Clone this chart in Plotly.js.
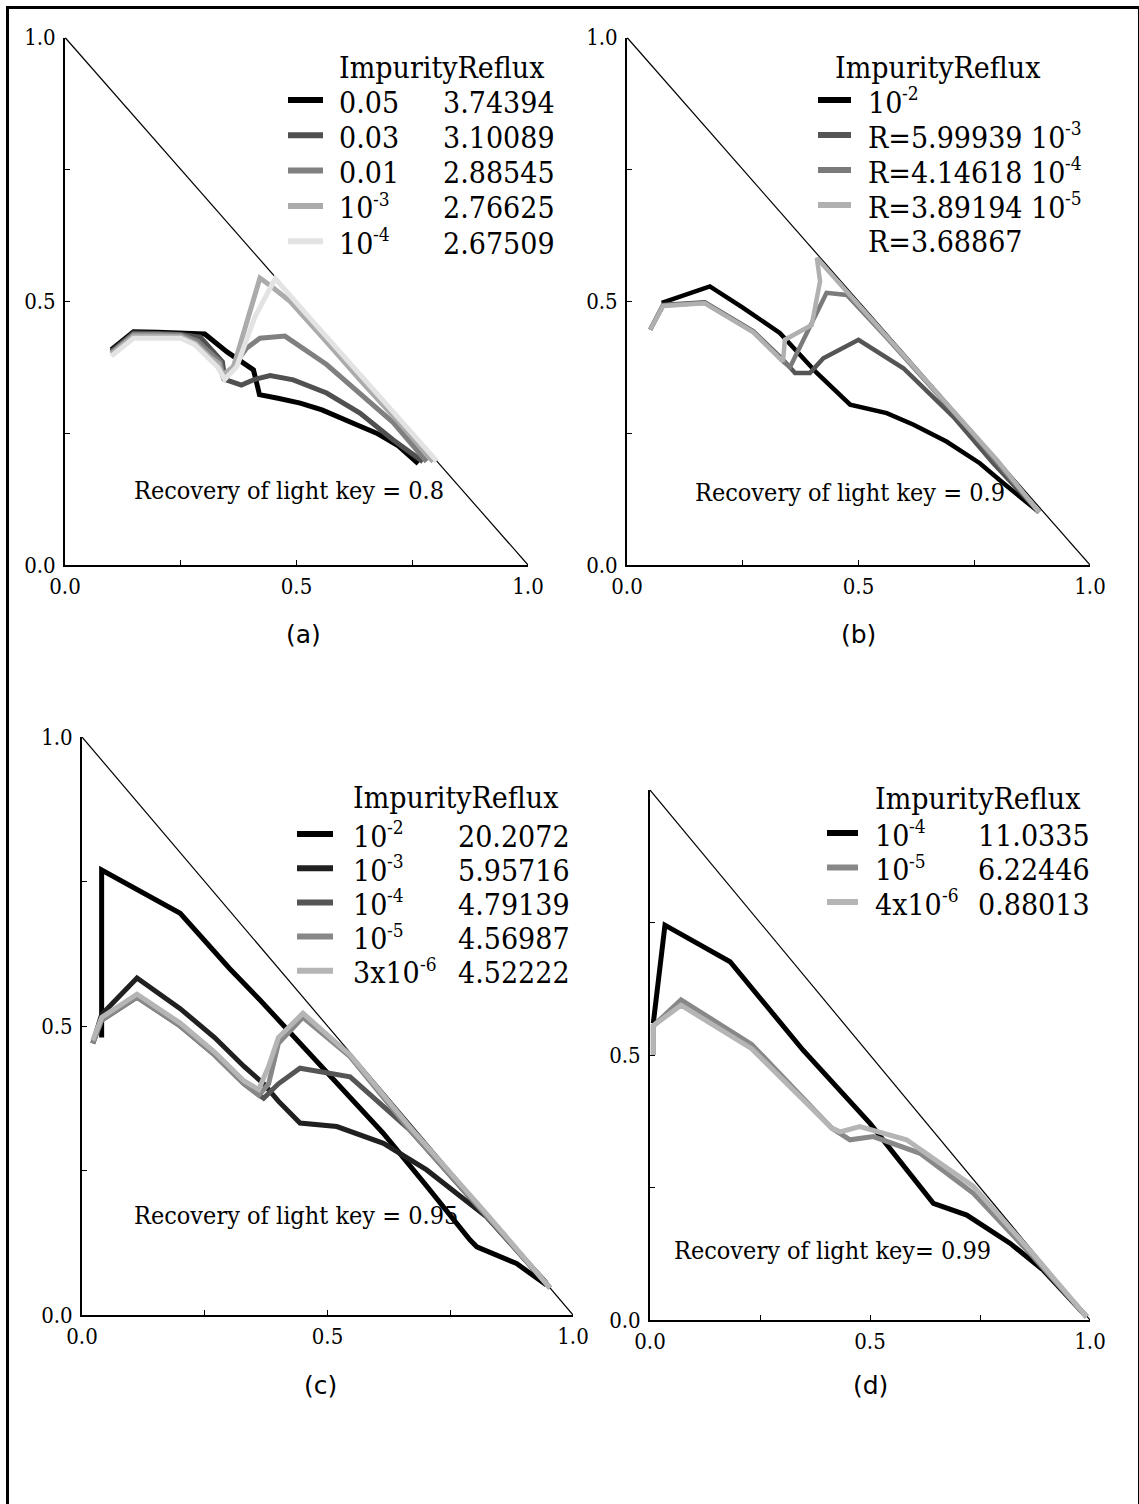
<!DOCTYPE html>
<html>
<head>
<meta charset="utf-8">
<script src="https://cdn.plot.ly/plotly-3.0.1.min.js"></script>
<style>
  html, body { margin: 0; padding: 0; background: #ffffff; }
  #chart { width: 1139px; height: 1504px; }
</style>
</head>
<body>
<div id="chart"></div>
<script>
// ---------- Panel (a): recovery of light key = 0.8 ----------
const aImpurity = ['0.05', '0.03', '0.01', '10^-3', '10^-4'];
const aReflux = ['3.74394', '3.10089', '2.88545', '2.76625', '2.67509'];
const aColors = ['#000000', '#505050', '#808080', '#ababab', '#e3e3e3'];
const aX1 = [0.100, 0.148, 0.200, 0.250, 0.302, 0.350, 0.407, 0.414, 0.420, 0.460, 0.508, 0.555, 0.601, 0.640, 0.673, 0.720, 0.763];
const aY1 = [0.408, 0.442, 0.441, 0.440, 0.438, 0.404, 0.370, 0.345, 0.323, 0.316, 0.307, 0.294, 0.278, 0.262, 0.250, 0.226, 0.192];
const aX2 = [0.100, 0.148, 0.200, 0.250, 0.292, 0.318, 0.340, 0.345, 0.367, 0.381, 0.410, 0.443, 0.493, 0.565, 0.637, 0.709, 0.773];
const aY2 = [0.405, 0.440, 0.439, 0.437, 0.432, 0.405, 0.385, 0.352, 0.345, 0.341, 0.352, 0.359, 0.351, 0.326, 0.288, 0.237, 0.196];
const aX3 = [0.100, 0.148, 0.200, 0.250, 0.285, 0.315, 0.335, 0.342, 0.352, 0.370, 0.392, 0.421, 0.475, 0.565, 0.637, 0.709, 0.781];
const aY3 = [0.402, 0.437, 0.437, 0.436, 0.425, 0.400, 0.385, 0.356, 0.360, 0.385, 0.411, 0.430, 0.434, 0.380, 0.326, 0.270, 0.196];
const aX4 = [0.100, 0.148, 0.200, 0.250, 0.282, 0.312, 0.332, 0.340, 0.364, 0.392, 0.421, 0.446, 0.486, 0.560, 0.640, 0.720, 0.795];
const aY4 = [0.400, 0.434, 0.434, 0.433, 0.420, 0.395, 0.382, 0.360, 0.376, 0.460, 0.544, 0.528, 0.500, 0.428, 0.348, 0.272, 0.196];
const aX5 = [0.100, 0.148, 0.200, 0.250, 0.280, 0.310, 0.330, 0.345, 0.371, 0.410, 0.454, 0.520, 0.600, 0.680, 0.750, 0.803];
const aY5 = [0.396, 0.430, 0.430, 0.430, 0.418, 0.392, 0.375, 0.352, 0.376, 0.470, 0.543, 0.477, 0.398, 0.318, 0.248, 0.197];

// ---------- Panel (b): recovery of light key = 0.9 ----------
const bLabels = ['10^-2', 'R=5.99939 10^-3', 'R=4.14618 10^-4', 'R=3.89194 10^-5', 'R=3.68867'];
const bColors = ['#000000', '#555555', '#7a7a7a', '#b0b0b0'];
const bX1 = [0.075, 0.179, 0.250, 0.330, 0.410, 0.482, 0.561, 0.619, 0.690, 0.762, 0.813, 0.890];
const bY1 = [0.497, 0.528, 0.488, 0.440, 0.364, 0.304, 0.288, 0.266, 0.234, 0.193, 0.155, 0.100];
const bX2 = [0.050, 0.078, 0.168, 0.273, 0.337, 0.363, 0.395, 0.424, 0.500, 0.597, 0.705, 0.791, 0.890];
const bY2 = [0.446, 0.493, 0.498, 0.443, 0.389, 0.364, 0.364, 0.392, 0.427, 0.373, 0.281, 0.193, 0.100];
const bX3 = [0.050, 0.078, 0.168, 0.273, 0.337, 0.352, 0.431, 0.475, 0.560, 0.650, 0.740, 0.890];
const bY3 = [0.446, 0.492, 0.497, 0.442, 0.386, 0.375, 0.516, 0.512, 0.432, 0.345, 0.256, 0.100];
const bX4 = [0.050, 0.078, 0.168, 0.273, 0.337, 0.341, 0.399, 0.417, 0.410, 0.500, 0.600, 0.700, 0.800, 0.890];
const bY4 = [0.446, 0.491, 0.496, 0.441, 0.386, 0.427, 0.455, 0.538, 0.582, 0.493, 0.396, 0.298, 0.198, 0.100];

// ---------- Panel (c): recovery of light key = 0.95 ----------
const cImpurity = ['10^-2', '10^-3', '10^-4', '10^-5', '3x10^-6'];
const cReflux = ['20.2072', '5.95716', '4.79139', '4.56987', '4.52222'];
const cColors = ['#000000', '#202020', '#555555', '#888888', '#b5b5b5'];
const cX1 = [0.040, 0.040, 0.200, 0.300, 0.3625, 0.444, 0.530, 0.613, 0.700, 0.783, 0.790, 0.804, 0.885, 0.946];
const cY1 = [0.480, 0.770, 0.695, 0.600, 0.545, 0.470, 0.390, 0.315, 0.225, 0.135, 0.130, 0.118, 0.089, 0.052];
const cX2 = [0.022, 0.040, 0.112, 0.200, 0.270, 0.330, 0.370, 0.400, 0.444, 0.519, 0.614, 0.702, 0.824, 0.946];
const cY2 = [0.470, 0.520, 0.583, 0.530, 0.480, 0.430, 0.400, 0.370, 0.332, 0.326, 0.297, 0.251, 0.170, 0.055];
const cX3 = [0.022, 0.040, 0.112, 0.200, 0.270, 0.330, 0.370, 0.400, 0.444, 0.546, 0.668, 0.824, 0.953];
const cY3 = [0.470, 0.510, 0.550, 0.500, 0.450, 0.400, 0.375, 0.400, 0.427, 0.412, 0.320, 0.172, 0.047];
const cX4 = [0.022, 0.040, 0.112, 0.200, 0.270, 0.330, 0.360, 0.380, 0.400, 0.450, 0.546, 0.668, 0.824, 0.953];
const cY4 = [0.470, 0.510, 0.550, 0.500, 0.450, 0.400, 0.380, 0.400, 0.470, 0.515, 0.447, 0.320, 0.172, 0.047];
const cX5 = [0.022, 0.040, 0.112, 0.200, 0.270, 0.330, 0.360, 0.380, 0.400, 0.450, 0.546, 0.668, 0.824, 0.953];
const cY5 = [0.475, 0.515, 0.555, 0.505, 0.455, 0.405, 0.390, 0.430, 0.480, 0.522, 0.450, 0.325, 0.175, 0.047];

// ---------- Panel (d): recovery of light key = 0.99 ----------
const dImpurity = ['10^-4', '10^-5', '4x10^-6'];
const dReflux = ['11.0335', '6.22446', '0.88013'];
const dColors = ['#000000', '#888888', '#b5b5b5'];
const dX1 = [0.0075, 0.034, 0.182, 0.348, 0.500, 0.636, 0.644, 0.720, 0.818, 0.894, 0.9925];
const dY1 = [0.560, 0.745, 0.676, 0.509, 0.371, 0.230, 0.220, 0.198, 0.145, 0.094, 0.006];
const dX2 = [0.0075, 0.0075, 0.0705, 0.231, 0.413, 0.4545, 0.5076, 0.614, 0.735, 0.870, 0.9925];
const dY2 = [0.500, 0.555, 0.604, 0.520, 0.362, 0.340, 0.346, 0.3145, 0.239, 0.120, 0.006];
const dX3 = [0.0075, 0.0075, 0.0705, 0.231, 0.413, 0.432, 0.477, 0.583, 0.735, 0.870, 0.9925];
const dY3 = [0.500, 0.555, 0.594, 0.512, 0.362, 0.355, 0.365, 0.340, 0.252, 0.125, 0.006];

// Boundary x + y = 1 of the composition triangle
const diagX = [0, 1];
const diagY = [1, 0];

const majorVals = [0, 0.5, 1];
const majorText = ['0.0', '0.5', '1.0'];
const majorValsNoTop = [0, 0.5];
const majorTextNoTop = ['0.0', '0.5'];

// ---------- page geometry (pixels) ----------
const W = 1139, H = 1504;
const PX = v => v / W;
const PY = v => 1 - v / H;
const SERIF = '"DejaVu Serif Condensed", "DejaVu Serif", serif';
const SANS = '"DejaVu Sans", sans-serif';
const KEY_SIZE = 30, EXP_SIZE = 19;

const panels = [
  { id: '',  box: { x0: 65,  x1: 528,  top: 37.5, bottom: 565 },  yv: majorVals, yt: majorText },
  { id: '2', box: { x0: 627, x1: 1090, top: 37.5, bottom: 565 },  yv: majorVals, yt: majorText },
  { id: '3', box: { x0: 82,  x1: 573,  top: 737,  bottom: 1315 }, yv: majorVals, yt: majorText },
  { id: '4', box: { x0: 650, x1: 1090, top: 790,  bottom: 1320 }, yv: majorValsNoTop, yt: majorTextNoTop }
];

const layout = {
  width: W, height: H,
  margin: { l: 0, r: 0, t: 0, b: 0 },
  paper_bgcolor: '#ffffff',
  plot_bgcolor: 'rgba(0,0,0,0)',
  showlegend: false,
  shapes: [],
  annotations: []
};

function axisBase(vals, labels, standoff) {
  return {
    range: [0, 1],
    showline: true, linecolor: '#000000', linewidth: 2,
    ticks: 'inside', ticklen: 5, tickwidth: 1, tickcolor: '#000000',
    tickmode: 'array', tickvals: vals, ticktext: labels,
    minor: { tickmode: 'array', tickvals: [0.25, 0.75], ticks: 'inside', ticklen: 5, tickwidth: 1, tickcolor: '#000000' },
    ticklabelstandoff: standoff,
    tickfont: { family: SERIF, size: 22, color: '#000000' },
    showgrid: false, zeroline: false, fixedrange: true
  };
}

panels.forEach(p => {
  const xa = axisBase(majorVals, majorText, 1);
  xa.domain = [PX(p.box.x0), PX(p.box.x1)];
  xa.anchor = 'y' + p.id;
  const ya = axisBase(p.yv, p.yt, 3);
  ya.domain = [PY(p.box.bottom), PY(p.box.top)];
  ya.anchor = 'x' + p.id;
  layout['xaxis' + p.id] = xa;
  layout['yaxis' + p.id] = ya;
});

const traces = [];
function line(xs, ys, color, width, id) {
  traces.push({
    type: 'scatter', mode: 'lines', x: xs, y: ys,
    xaxis: 'x' + id, yaxis: 'y' + id,
    line: { color: color, width: width, shape: 'linear' },
    hoverinfo: 'skip'
  });
}

// triangle boundary in every panel
panels.forEach(p => line(diagX, diagY, '#000000', 1.2, p.id));

[[aX1, aY1], [aX2, aY2], [aX3, aY3], [aX4, aY4], [aX5, aY5]]
  .forEach((s, i) => line(s[0], s[1], aColors[i], 5, ''));
[[bX1, bY1], [bX2, bY2], [bX3, bY3], [bX4, bY4]]
  .forEach((s, i) => line(s[0], s[1], bColors[i], 4.5, '2'));
[[cX1, cY1], [cX2, cY2], [cX3, cY3], [cX4, cY4], [cX5, cY5]]
  .forEach((s, i) => line(s[0], s[1], cColors[i], 5, '3'));
[[dX1, dY1], [dX2, dY2], [dX3, dY3]]
  .forEach((s, i) => line(s[0], s[1], dColors[i], 5, '4'));

// ---------- text helpers ----------
const measureCtx = document.createElement('canvas').getContext('2d');
function textWidth(str, size) {
  measureCtx.font = size + 'px ' + SERIF;
  return measureCtx.measureText(str).width;
}
function text(str, x, y, opts) {
  layout.annotations.push(Object.assign({
    text: str, xref: 'paper', yref: 'paper', x: PX(x), y: PY(y),
    xanchor: 'left', yanchor: 'middle', showarrow: false,
    font: { family: SERIF, size: KEY_SIZE, color: '#000000' }
  }, opts || {}));
}
// label written as "base^exponent": the exponent is set raised and smaller
function powerText(str, x, y) {
  const parts = str.split('^');
  text(parts[0], x, y);
  if (parts.length > 1) {
    const w = textWidth(parts[0], KEY_SIZE);
    text(parts[1], x + w, y - 9, { font: { family: SERIF, size: EXP_SIZE, color: '#000000' } });
  }
}
function sample(x0, x1, y, color) {
  layout.shapes.push({
    type: 'line', xref: 'paper', yref: 'paper',
    x0: PX(x0), x1: PX(x1), y0: PY(y), y1: PY(y),
    line: { color: color, width: 6 }
  });
}
function keyBlock(cfg) {
  text('ImpurityReflux', cfg.titleX, cfg.titleY);
  cfg.labels.forEach((lab, i) => {
    const y = cfg.rowY + i * cfg.step;
    if (i < cfg.colors.length) sample(cfg.sx0, cfg.sx1, y - 2, cfg.colors[i]);
    powerText(lab, cfg.textX, y);
    if (cfg.values) text(cfg.values[i], cfg.valX, y, { xanchor: 'right' });
  });
}

keyBlock({ titleX: 337, titleY: 67, rowY: 102, step: 35.3, sx0: 288, sx1: 323,
           textX: 337, valX: 557, labels: aImpurity, values: aReflux, colors: aColors });
keyBlock({ titleX: 833, titleY: 67, rowY: 102, step: 35.0, sx0: 818, sx1: 851,
           textX: 866, labels: bLabels, colors: bColors });
keyBlock({ titleX: 351, titleY: 797, rowY: 836, step: 34.2, sx0: 297, sx1: 333,
           textX: 351, valX: 572, labels: cImpurity, values: cReflux, colors: cColors });
keyBlock({ titleX: 873, titleY: 798, rowY: 835, step: 34.5, sx0: 827, sx1: 858,
           textX: 873, valX: 1092, labels: dImpurity, values: dReflux, colors: dColors });

const recFont = { family: SERIF, size: 25, color: '#000000' };
text('Recovery of light key = 0.8', 132, 490, { font: recFont });
text('Recovery of light key = 0.9', 693, 492, { font: recFont });
text('Recovery of light key = 0.95', 132, 1215, { font: recFont });
text('Recovery of light key= 0.99', 672, 1250, { font: recFont });

const capFont = { family: SANS, size: 25, color: '#000000' };
text('(a)', 303, 634, { xanchor: 'center', font: capFont });
text('(b)', 858, 634, { xanchor: 'center', font: capFont });
text('(c)', 320, 1385, { xanchor: 'center', font: capFont });
text('(d)', 870, 1385, { xanchor: 'center', font: capFont });

// outer frame of the figure
layout.shapes.push({
  type: 'rect', xref: 'paper', yref: 'paper',
  x0: PX(7.5), x1: PX(1139.5), y0: PY(7.5), y1: PY(1512),
  line: { color: '#000000', width: 3 }, fillcolor: 'rgba(0,0,0,0)'
});

Plotly.newPlot('chart', traces, layout, { staticPlot: true, displayModeBar: false });
</script>
</body>
</html>
